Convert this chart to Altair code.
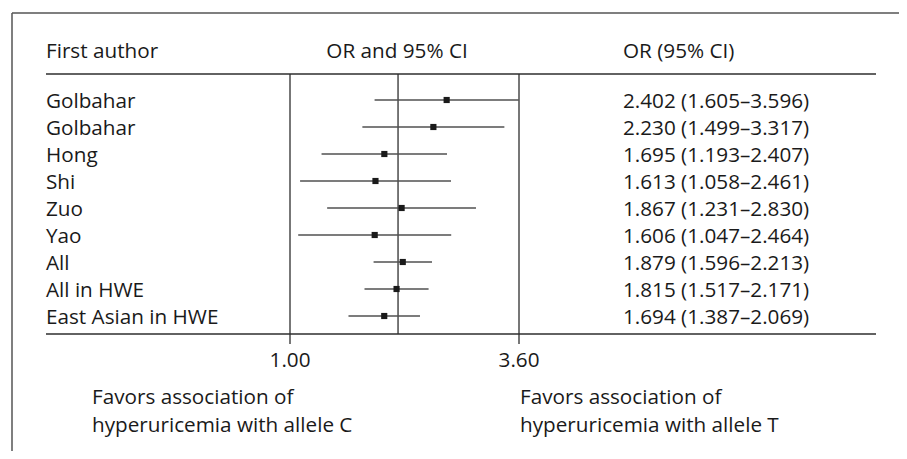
import altair as alt
import pandas as pd

# ---- data ----
authors = ["Golbahar", "Golbahar", "Hong", "Shi", "Zuo", "Yao", "All", "All in HWE", "East Asian in HWE"]
or_vals = [2.402, 2.230, 1.695, 1.613, 1.867, 1.606, 1.879, 1.815, 1.694]
ci_low = [1.605, 1.499, 1.193, 1.058, 1.231, 1.047, 1.596, 1.517, 1.387]
ci_high = [3.596, 3.317, 2.407, 2.461, 2.830, 2.464, 2.213, 2.171, 2.069]
axis_ticks = [1.00, 3.60]
ref_line = [1.83]
headers = ["First author", "OR and 95% CI", "OR (95% CI)"]
footer_left = ["Favors association of", "hyperuricemia with allele C"]
footer_right = ["Favors association of", "hyperuricemia with allele T"]

rows = pd.DataFrame({
    "row": list(range(len(authors))),
    "author": authors,
    "or": or_vals,
    "lo": ci_low,
    "hi": ci_high,
    "label": [f"{o:.3f} ({l:.3f}\u2013{h:.3f})" for o, l, h in zip(or_vals, ci_low, ci_high)],
})
ticks = pd.DataFrame({"v": axis_ticks, "lab": [f"{t:.2f}" for t in axis_ticks]})
vlines = pd.DataFrame({"v": axis_ticks + ref_line})
one = pd.DataFrame({"a": [0]})

FONT = "Open Sans"
FS = 20.7
TXT = "#1a1a1a"
LINE = "#2e2e2e"

xs = alt.Scale(type="log", domain=[1, 3.6], range=[282, 511])
ys = alt.Scale(domain=[0, 8], range=[92, 308], nice=False, zero=False)
X = lambda f: alt.X(f, type="quantitative", scale=xs, axis=None)
Y = alt.Y("row:Q", scale=ys, axis=None)

base_rows = alt.Chart(rows)

# frame (top and left border)
frame_top = alt.Chart(one).mark_rule(color="#555555", strokeWidth=1.5).encode(
    x=alt.value(4), x2=alt.value(891), y=alt.value(5))
frame_left = alt.Chart(one).mark_rule(color="#555555", strokeWidth=1.5).encode(
    x=alt.value(4), y=alt.value(5), y2=alt.value(443))

# table rules
hdr_rule = alt.Chart(one).mark_rule(color=LINE, strokeWidth=1.4).encode(
    x=alt.value(38), x2=alt.value(868), y=alt.value(66))
bot_rule = alt.Chart(one).mark_rule(color=LINE, strokeWidth=1.4).encode(
    x=alt.value(38), x2=alt.value(868), y=alt.value(326))

# vertical lines
vrules = alt.Chart(vlines).mark_rule(color=LINE, strokeWidth=1.3).encode(
    x=X("v"), y=alt.value(66), y2=alt.value(326))
tick_marks = alt.Chart(ticks).mark_rule(color=LINE, strokeWidth=1.3).encode(
    x=X("v"), y=alt.value(326), y2=alt.value(336))
tick_labels = alt.Chart(ticks).mark_text(font=FONT, fontSize=FS, color=TXT, align="center",
                                         baseline="alphabetic").encode(
    x=X("v"), y=alt.value(359), text="lab:N")

# CI bars and points
ci = base_rows.mark_rule(color="#505050", strokeWidth=1.6).encode(x=X("lo"), x2="hi:Q", y=Y)
pts = base_rows.mark_square(color="#1a1a1a", size=38, opacity=1).encode(x=X("or"), y=Y)

# text columns
auth_txt = base_rows.mark_text(font=FONT, fontSize=FS, color=TXT, align="left",
                               baseline="alphabetic", dy=7.6).encode(
    x=alt.value(38), y=Y, text="author:N")
or_txt = base_rows.mark_text(font=FONT, fontSize=FS, color=TXT, align="left",
                             baseline="alphabetic", dy=7.6).encode(
    x=alt.value(615), y=Y, text="label:N")

# headers
hdr_df = pd.DataFrame({"t": headers})
h1 = alt.Chart(hdr_df.iloc[[0]]).mark_text(font=FONT, fontSize=FS, color=TXT, align="left",
                                           baseline="alphabetic").encode(
    x=alt.value(38), y=alt.value(50), text="t:N")
h2 = alt.Chart(hdr_df.iloc[[1]]).mark_text(font=FONT, fontSize=FS, color=TXT, align="center",
                                           baseline="alphabetic").encode(
    x=alt.value(389), y=alt.value(50), text="t:N")
h3 = alt.Chart(hdr_df.iloc[[2]]).mark_text(font=FONT, fontSize=FS, color=TXT, align="left",
                                           baseline="alphabetic").encode(
    x=alt.value(615), y=alt.value(50), text="t:N")

# footers
fl = alt.Chart(pd.DataFrame({"t": [footer_left]})).mark_text(
    font=FONT, fontSize=FS, color=TXT, align="left", baseline="alphabetic", lineHeight=28).encode(
    x=alt.value(84), y=alt.value(396), text="t")
fr = alt.Chart(pd.DataFrame({"t": [footer_right]})).mark_text(
    font=FONT, fontSize=FS, color=TXT, align="left", baseline="alphabetic", lineHeight=28).encode(
    x=alt.value(512), y=alt.value(396), text="t")

chart = alt.layer(
    frame_top, frame_left, hdr_rule, bot_rule, vrules, tick_marks, tick_labels,
    ci, pts, auth_txt, or_txt, h1, h2, h3, fl, fr
).properties(
    width=891, height=443,
    autosize=alt.AutoSizeParams(type="none"),
    padding=0,
    background="white",
).configure_view(stroke=None)

chart.save("out.html", embed_options={"renderer": "svg", "actions": False})
